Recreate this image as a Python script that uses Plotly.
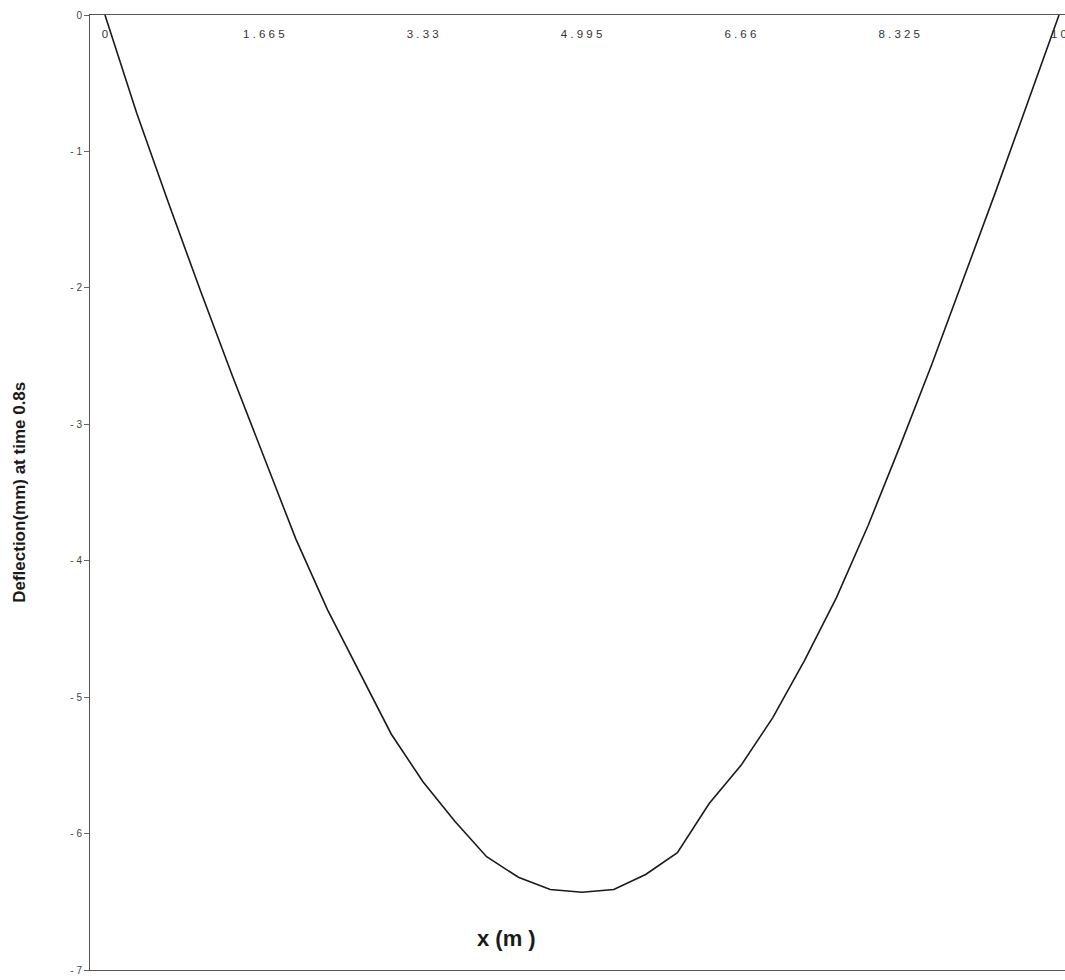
import plotly.graph_objects as go

# Beam position along span (m)
x_pos = [0.0, 0.333, 0.667, 1.0, 1.333, 1.667, 2.0, 2.333, 2.667, 3.0,
         3.333, 3.667, 4.0, 4.333, 4.667, 5.0, 5.333, 5.667, 6.0, 6.333,
         6.667, 7.0, 7.333, 7.667, 8.0, 8.333, 8.667, 9.0, 9.333, 9.667, 10.0]
# Deflection (mm) at time 0.8 s
deflection = [0.0, -0.72, -1.38, -2.02, -2.64, -3.24, -3.84, -4.36, -4.82, -5.27,
              -5.62, -5.91, -6.17, -6.32, -6.41, -6.43, -6.41, -6.30, -6.14, -5.78,
              -5.50, -5.15, -4.73, -4.27, -3.74, -3.16, -2.56, -1.93, -1.30, -0.65, 0.0]

x_ticks = [0, 1.665, 3.33, 4.995, 6.66, 8.325, 10]
x_tick_text = ["0", "1 . 6 6 5", "3 . 3 3", "4 . 9 9 5", "6 . 6 6", "8 . 3 2 5", "1 0"]
y_ticks = [0, -1, -2, -3, -4, -5, -6, -7]
y_tick_text = ["0", "- 1", "- 2", "- 3", "- 4", "- 5", "- 6", "- 7"]

fig = go.Figure()
fig.add_trace(go.Scatter(x=x_pos, y=deflection, mode="lines",
                         line=dict(color="#1a1a1a", width=1.6),
                         showlegend=False, hoverinfo="skip"))

fig.update_layout(
    width=1072, height=980,
    margin=dict(l=90, r=0, t=15, b=10),
    paper_bgcolor="white", plot_bgcolor="white",
    font=dict(family="Arial, Liberation Sans, sans-serif", color="#333333"),
    xaxis=dict(side="top", range=[-0.157, 10.136], tickvals=x_ticks,
               ticktext=x_tick_text, ticklabelposition="inside",
               ticklabeloverflow="allow",
               ticks="inside", ticklen=14, tickcolor="rgba(0,0,0,0)",
               showgrid=False, zeroline=False,
               showline=True, linecolor="#555555", linewidth=1, mirror=True,
               tickfont=dict(size=11.5, color="#333333")),
    yaxis=dict(range=[-7, 0], tickvals=y_ticks, ticktext=y_tick_text,
               ticks="outside", ticklen=5, ticklabeloverflow="allow",
               tickcolor="#666666", showgrid=False, zeroline=False,
               showline=True, linecolor="#555555", linewidth=1, mirror=True,
               tickfont=dict(size=10, color="#444444")),
    annotations=[
        dict(text="<b>Deflection(mm) at time 0.8s</b>", xref="paper", yref="paper",
             x=-0.072, y=0.5, xanchor="center", yanchor="middle", textangle=-90,
             showarrow=False, font=dict(size=17, color="#1a1a1a")),
        dict(text="<b>x (m )</b>", xref="paper", yref="paper",
             x=0.424, y=0.018, xanchor="center", yanchor="bottom",
             showarrow=False, font=dict(size=22, color="#1a1a1a")),
    ],
)

fig.write_html("out.html", config={"displayModeBar": False},
               post_script="document.body.style.margin='0';document.body.style.overflow='hidden';")
